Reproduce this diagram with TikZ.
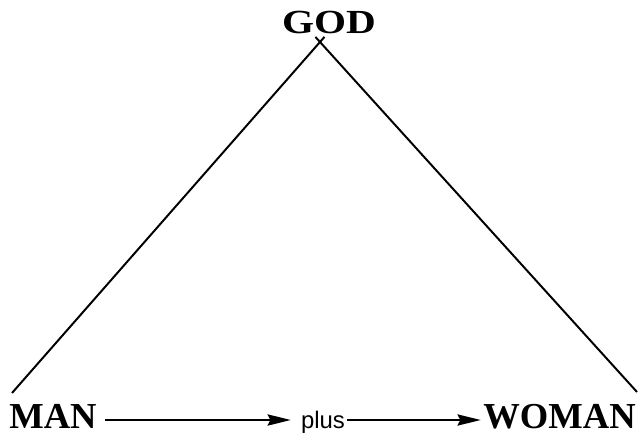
\documentclass[tikz,border=0pt]{standalone}
\usepackage{fontspec}
\setmainfont{Liberation Serif}
\setsansfont{Liberation Sans}
\usetikzlibrary{arrows.meta}

\begin{document}
\begin{tikzpicture}[
        x=0.025cm, y=-0.025cm,
        >={Stealth[length=0.58cm, width=0.28cm, inset=0.07cm]},
        every node/.style={inner sep=0pt},
        word/.style={font=\fontsize{26}{30}\selectfont\bfseries, text height=0.4cm, text depth=0pt},
        head/.style={font=\fontsize{24}{28}\selectfont\bfseries, xscale=1.22},
        link/.style={font=\sffamily\fontsize{17}{20}\selectfont, text height=0.4cm, text depth=0pt},
        side/.style={line width=1.4pt},
        flow/.style={->, line width=1.5pt}
    ]
        \useasboundingbox (0,0) rectangle (639,436);

        \node[head, anchor=base] (god) at (329,33) {GOD};
        \node[word, anchor=base west] (man) at (9,428) {MAN};
        \node[word, anchor=base east] (woman) at (636,428) {WOMAN};
        \node[link, anchor=base] (plus) at (323,428) {plus};

        % the two sides meet inside the O
        \coordinate (apex) at (320,42);
        \coordinate (lfoot) at (12,393);
        \coordinate (rfoot) at (637,392);
        \draw[side, shorten >=-0.17cm] (lfoot) -- (apex);
        \draw[side, shorten >=-0.17cm] (rfoot) -- (apex);

        \draw[flow, shorten <=0.2cm, shorten >=0.25cm] (man) -- (plus);
        \draw[flow, shorten <=0.05cm, shorten >=0.06cm] (plus) -- (woman);
    \end{tikzpicture}
\end{document}
